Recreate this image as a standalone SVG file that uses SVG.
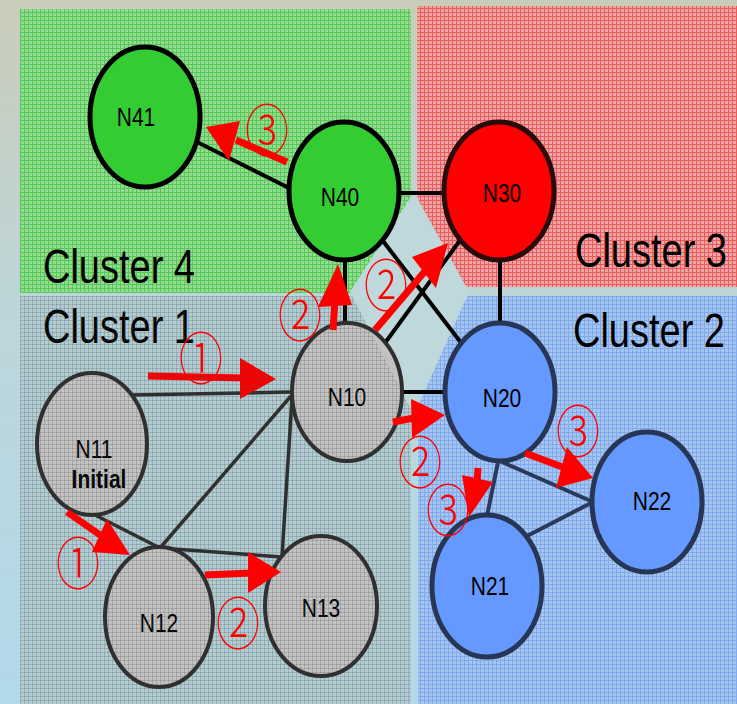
<svg xmlns="http://www.w3.org/2000/svg" width="737" height="704" viewBox="0 0 737 704">
  <defs>
    <linearGradient id="bg" x1="0" y1="0" x2="0" y2="1">
      <stop offset="0" stop-color="#c9ccb9"/>
      <stop offset="0.45" stop-color="#bdd6da"/>
      <stop offset="1" stop-color="#b2d9ea"/>
    </linearGradient>
    <pattern id="gridGreen" width="4" height="4" patternUnits="userSpaceOnUse">
      <rect width="4" height="4" fill="#94da92"/>
      <path d="M0 0.5H4M0.5 0V4" stroke="#55c855" stroke-width="1"/>
    </pattern>
    <pattern id="gridRed" width="4" height="4" patternUnits="userSpaceOnUse">
      <rect width="4" height="4" fill="#eaa6a6"/>
      <path d="M0 0.5H4M0.5 0V4" stroke="#ee5a5a" stroke-width="1"/>
    </pattern>
    <pattern id="gridBlue" width="4" height="4" patternUnits="userSpaceOnUse">
      <rect width="4" height="4" fill="#a6c6f2"/>
      <path d="M0 0.5H4M0.5 0V4" stroke="#82a9ec" stroke-width="1"/>
    </pattern>
    <pattern id="gridGray" width="4" height="4" patternUnits="userSpaceOnUse">
      <path d="M0 0.5H4M0.5 0V4" stroke="#404040" stroke-opacity="0.2" stroke-width="1"/>
    </pattern>
    <mask id="outsideCentre">
      <rect x="0" y="0" width="737" height="704" fill="#fff"/>
      <polygon points="414,192 469,292 414,415 350,292" fill="#000"/>
    </mask>
    <style>
      .lbl { font-family: "Liberation Sans", Arial, sans-serif; font-size: 21px; fill: #000; text-anchor: middle; }
      .bold { font-weight: bold; }
      .cl { font-family: "Liberation Sans", Arial, sans-serif; font-size: 38px; fill: #000; }
      .num { font-family: "Noto Sans CJK JP", "DejaVu Sans", sans-serif; font-size: 44px; font-weight: 300; fill: #ff0000; text-anchor: middle; dominant-baseline: central; }
      .edge { stroke: #000; stroke-width: 4; fill: none; }
      .edge1 { stroke: #2e2e2e; stroke-width: 3.5; fill: none; }
      .edge2 { stroke: #2a3a58; stroke-width: 4; fill: none; }
      .green { fill: #33cc33; stroke: #000; stroke-width: 5; }
      .red { fill: #ff0000; stroke: #2a0a0a; stroke-width: 5; }
      .blue { fill: #6699ff; stroke: #263654; stroke-width: 5; }
      .gray { fill: #c2c2c2; stroke: #2e2e2e; stroke-width: 4; }
      .shaft { stroke: #ff0000; stroke-width: 7; fill: none; }
      .head { fill: #ff0000; }
    </style>
  </defs>

  <!-- background -->
  <rect x="0" y="0" width="737" height="704" fill="url(#bg)"/>

  <!-- cluster areas -->
  <g id="clusters">
    <rect x="20" y="9" width="391" height="284" fill="url(#gridGreen)"/>
    <rect x="417" y="6" width="320" height="281" fill="url(#gridRed)"/>
    <rect x="20" y="296" width="391" height="408" fill="#b2ccd4"/>
    <rect x="418" y="296" width="319" height="408" fill="url(#gridBlue)"/>
    <polygon points="414,192 469,292 414,415 350,292" fill="#bfd8dc"/>
    <text class="cl" transform="translate(43 283) scale(1 1.28)">Cluster 4</text>
    <text class="cl" transform="translate(575 267) scale(1 1.28)">Cluster 3</text>
    <text class="cl" transform="translate(43 343) scale(1 1.28)">Cluster 1</text>
    <text class="cl" transform="translate(573 347) scale(1 1.28)">Cluster 2</text>
  </g>

  <!-- connectors -->
  <g id="connectors">
    <line class="edge" x1="197" y1="142" x2="289" y2="188"/>
    <line class="edge" x1="399" y1="193" x2="445" y2="193"/>
    <line class="edge" x1="345" y1="260" x2="345" y2="323"/>
    <line class="edge" x1="383" y1="241" x2="462" y2="344"/>
    <line class="edge" x1="385" y1="343" x2="461" y2="239"/>
    <line class="edge" x1="500" y1="260" x2="500" y2="324"/>
    <line class="edge" x1="401" y1="392" x2="446" y2="392"/>
    <line class="edge1" x1="132" y1="395" x2="291" y2="392"/>
    <line class="edge1" x1="291" y1="396" x2="160" y2="548"/>
    <line class="edge1" x1="292" y1="398" x2="282" y2="557"/>
    <line class="edge1" x1="93" y1="514" x2="160" y2="548"/>
    <line class="edge1" x1="160" y1="548" x2="282" y2="557"/>
    <line class="edge2" x1="498" y1="462" x2="487" y2="516"/>
    <line class="edge2" x1="502" y1="462" x2="593" y2="502"/>
    <line class="edge2" x1="525" y1="537" x2="593" y2="502"/>
  </g>

  <!-- nodes -->
  <g id="N41">
    <ellipse class="green" cx="145" cy="117" rx="55" ry="70"/>
    <text class="lbl" transform="translate(136 126) scale(1 1.23)">N41</text>
  </g>
  <g id="N40">
    <ellipse class="green" cx="344" cy="191" rx="55" ry="69"/>
    <text class="lbl" transform="translate(340 206) scale(1 1.23)">N40</text>
  </g>
  <g id="N30">
    <ellipse class="red" cx="499" cy="191" rx="55" ry="69"/>
    <text class="lbl" transform="translate(502 202) scale(1 1.23)">N30</text>
  </g>
  <g id="N20">
    <ellipse class="blue" cx="500" cy="392" rx="55" ry="69"/>
    <text class="lbl" transform="translate(502 407) scale(1 1.23)">N20</text>
  </g>
  <g id="N22">
    <ellipse class="blue" cx="647" cy="502" rx="55" ry="70"/>
    <text class="lbl" transform="translate(652 510) scale(1 1.23)">N22</text>
  </g>
  <g id="N21">
    <ellipse class="blue" cx="487" cy="586" rx="55" ry="71"/>
    <text class="lbl" transform="translate(490 595) scale(1 1.23)">N21</text>
  </g>

  <!-- first step arrow inside cluster 1 -->
  <g id="step-1a">
    <line class="shaft" x1="148" y1="376" x2="245" y2="378"/>
    <polygon class="head" points="276,379 240,358 240,399"/>
  </g>

  <g id="N10">
    <ellipse class="gray" cx="347" cy="392" rx="55" ry="69"/>
    <text class="lbl" transform="translate(347 406) scale(1 1.23)">N10</text>
  </g>
  <g id="N11">
    <ellipse class="gray" cx="92" cy="444" rx="55" ry="71"/>
    <text class="lbl" transform="translate(94 458) scale(1 1.23)">N11</text>
    <text class="lbl bold" transform="translate(99 488) scale(1 1.25)">Initial</text>
  </g>
  <g id="N12">
    <ellipse class="gray" cx="159" cy="617" rx="54" ry="70"/>
    <text class="lbl" transform="translate(159 632) scale(1 1.23)">N12</text>
  </g>
  <g id="N13">
    <ellipse class="gray" cx="321" cy="606" rx="56" ry="70"/>
    <text class="lbl" transform="translate(321 617) scale(1 1.23)">N13</text>
  </g>

  <!-- grid texture over cluster 1 -->
  <rect x="20" y="296" width="391" height="408" fill="url(#gridGray)" mask="url(#outsideCentre)"/>

  <!-- exploration steps -->
  <g id="steps">
    <line class="shaft" x1="333" y1="330" x2="335" y2="300"/>
    <polygon class="head" points="338,264 318,307 352,305"/>
    <line class="shaft" x1="375" y1="330" x2="426" y2="270"/>
    <polygon class="head" points="448,243 412,257 436,288"/>
    <line class="shaft" x1="393" y1="422" x2="414" y2="418"/>
    <polygon class="head" points="445,415 411,399 412,438"/>
    <line class="shaft" x1="287" y1="162" x2="236" y2="140"/>
    <polygon class="head" points="206,127 240,121 229,161"/>
    <line class="shaft" x1="67" y1="512" x2="103" y2="537"/>
    <polygon class="head" points="130,555 107,519 92,552"/>
    <line class="shaft" x1="205" y1="575" x2="252" y2="573"/>
    <polygon class="head" points="281,572 248,552 248,593"/>
    <line class="shaft" x1="478" y1="468" x2="477" y2="482"/>
    <polygon class="head" points="469,517 462,475 493,482"/>
    <line class="shaft" x1="525" y1="453" x2="565" y2="468"/>
    <polygon class="head" points="593,478 567,447 556,488"/>
  </g>

  <g id="step-labels">
    <text class="num" transform="translate(201 355) scale(1 1.27)">①</text>
    <text class="num" transform="translate(78 560) scale(1 1.27)">①</text>
    <text class="num" transform="translate(300 312) scale(1 1.27)">②</text>
    <text class="num" transform="translate(386 282) scale(1 1.27)">②</text>
    <text class="num" transform="translate(420 459) scale(1 1.27)">②</text>
    <text class="num" transform="translate(238 620) scale(1 1.27)">②</text>
    <text class="num" transform="translate(267 127) scale(1 1.27)">③</text>
    <text class="num" transform="translate(448 507) scale(1 1.27)">③</text>
    <text class="num" transform="translate(578 428) scale(1 1.27)">③</text>
  </g>
</svg>
